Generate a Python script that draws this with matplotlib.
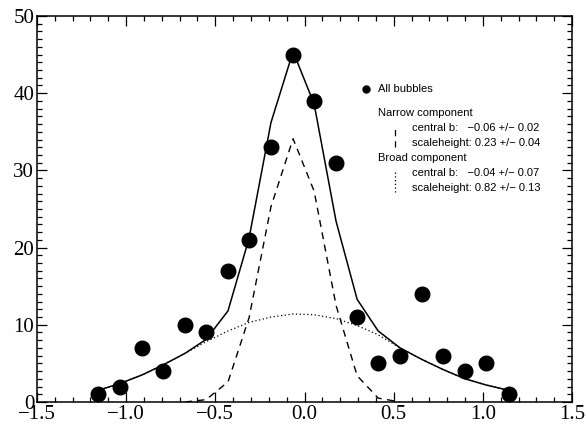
"""Bubble distribution vs b with narrow + broad component fits."""

import matplotlib

matplotlib.use("Agg")
import matplotlib.pyplot as plt
from matplotlib.ticker import MultipleLocator

# bin centres (b) and counts
b_centres = [-1.158, -1.034, -0.911, -0.793, -0.670, -0.552, -0.429, -0.311,
             -0.188, -0.064, 0.054, 0.177, 0.295, 0.413, 0.536, 0.659,
             0.777, 0.900, 1.018, 1.147]
counts = [1, 2, 7, 4, 10, 9, 17, 21, 33, 45, 39, 31, 11, 5, 6, 14, 6, 4, 5, 1]

# fitted curves evaluated at the same bin centres
total_fit = [1.5, 2.4, 3.5, 4.8, 6.3, 8.1, 11.8, 21.2, 36.2, 45.4, 38.6,
             23.4, 13.3, 9.2, 7.0, 5.5, 4.2, 3.0, 2.2, 1.5]
narrow_fit = [0.0, 0.0, 0.0, 0.0, 0.0, 0.3, 2.6, 10.9, 25.3, 34.1, 27.3,
              12.5, 3.4, 0.5, 0.0, 0.0, 0.0, 0.0, 0.0, 0.0]
broad_fit = [1.5, 2.4, 3.5, 4.8, 6.3, 7.8, 9.2, 10.3, 11.0, 11.4, 11.3,
             10.8, 9.9, 8.7, 7.0, 5.5, 4.2, 3.0, 2.2, 1.5]

legend_blocks = [
    ("Narrow component", ["central b:   \u22120.06 +/\u2212 0.02",
                          "scaleheight: 0.23 +/\u2212 0.04"], (0, (5, 4))),
    ("Broad component", ["central b:   \u22120.04 +/\u2212 0.07",
                         "scaleheight: 0.82 +/\u2212 0.13"], (0, (1, 2))),
]

fig = plt.figure(figsize=(5.87, 4.29), dpi=100)
ax = fig.add_axes([0.063, 0.063, 0.9115, 0.8997])

# narrow curve only drawn where it is non-negligible
nar_x = [x for x, y in zip(b_centres, narrow_fit) if -0.7 < x < 0.6]
nar_y = [y for x, y in zip(b_centres, narrow_fit) if -0.7 < x < 0.6]
ax.plot(b_centres, total_fit, color="black", lw=1.1)
ax.plot(nar_x, nar_y, color="black", lw=1.0, linestyle=(0, (5, 4)))
ax.plot(b_centres, broad_fit, color="black", lw=0.9, linestyle=(0, (1, 2)))
ax.plot(b_centres, counts, "o", color="black", markersize=10.5)

ax.set_xlim(-1.5, 1.5)
ax.set_ylim(0, 50)
ax.xaxis.set_major_locator(MultipleLocator(0.5))
ax.xaxis.set_minor_locator(MultipleLocator(0.1))
ax.yaxis.set_major_locator(MultipleLocator(10))
ax.yaxis.set_minor_locator(MultipleLocator(1))
ax.xaxis.set_major_formatter(plt.FuncFormatter(
    lambda v, _: f"{v:.1f}".replace("-", "\u2212")))
ax.tick_params(which="both", direction="in", top=True, right=True,
               width=0.9)
ax.tick_params(which="major", length=7.2, labelsize=15, pad=2)
ax.tick_params(which="minor", length=3.6)
for lab in ax.get_xticklabels() + ax.get_yticklabels():
    lab.set_family("Liberation Serif")
for sp in ax.spines.values():
    sp.set_linewidth(1.1)

# hand-made legend, axes-fraction coordinates
tr = ax.transAxes
ax.plot([0.615], [0.811], "o", color="black", markersize=5, transform=tr)
ax.text(0.637, 0.811, "All bubbles", transform=tr, fontsize=8,
        family="Liberation Sans", va="center")
y = 0.749
for head, rows, style in legend_blocks:
    ax.text(0.637, y, head, transform=tr, fontsize=8,
            family="Liberation Sans", va="center")
    ax.plot([0.669, 0.669], [y - 0.088, y - 0.036], color="black", lw=0.9,
            linestyle=style, transform=tr)
    for i, row in enumerate(rows):
        ax.text(0.701, y - 0.039 - 0.039 * i, row, transform=tr, fontsize=8,
                family="Liberation Sans", va="center")
    y -= 0.117

fig.savefig("out.png", dpi=100)
plt.close(fig)
